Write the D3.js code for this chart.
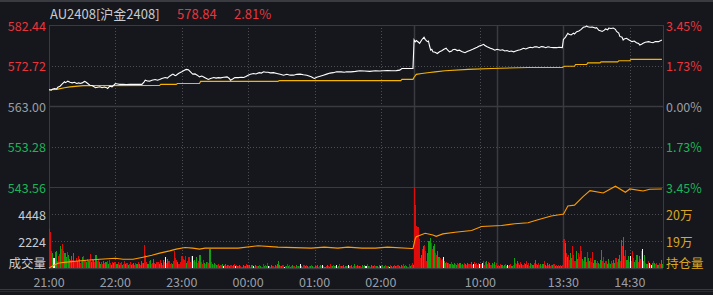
<!DOCTYPE html>
<html><head><meta charset="utf-8">
<script src="https://cdn.jsdelivr.net/npm/d3@7"></script>
<style>
html,body{margin:0;padding:0;background:#15171c;overflow:hidden;}
svg{display:block;}
text{font-family:"Noto Sans CJK SC","Noto Sans",sans-serif;}
</style></head><body>
<svg id="c" width="713" height="295"></svg>
<script>
// ---------------- DATA ----------------
const symbolName = "AU2408[沪金2408]";
const lastPrice = "578.84";
const lastChange = "2.81%";
const prevSettle = 563.00;
const priceTicks = [582.44, 572.72, 563.00, 553.28, 543.56];
const pctTicks = ["3.45%", "1.73%", "0.00%", "1.73%", "3.45%"];
const volTicks = [4448, 2224];
const volLabel = "成交量";
const oiTicks = [200000, 190000];
const oiTickLabels = ["20万", "19万"];
const oiLabel = "持仓量";
const timeLabels = ["21:00", "22:00", "23:00", "00:00", "01:00", "02:00", "10:00", "13:30", "14:30"];
const timeLabelMin = [0, 60, 120, 180, 240, 300, 390, 465, 525];
const sessionBreakMin = [330, 405, 465];
const hourGridMin = [60, 120, 180, 240, 300, 390, 525];
const totalMinutes = 555;

// [minute index, price]
const priceNight = [[0,566.9],[2,566.8],[3,567.0],[5,567.2],[7,567.1],[8,567.5],[10,567.75],[12,568.3],[14,568.8],[15,568.6],[17,568.96],[19,568.7],[21,568.55],[23,568.7],[25,568.4],[27,568.55],[28,568.4],[30,568.55],[32,568.9],[33,568.8],[35,568.4],[37,568.0],[39,567.9],[42,567.4],[44,567.5],[46,567.6],[48,567.4],[50,567.55],[52,567.4],[53,567.2],[55,567.75],[57,567.6],[60,568.4],[62,568.3],[64,568.2],[67,568.2],[70,568.15],[73,568.2],[76,568.2],[80,568.2],[84,568.2],[86,568.8],[87,569.2],[89,569.0],[91,568.96],[93,569.2],[96,569.36],[98,569.2],[100,569.36],[102,569.6],[105,569.85],[107,569.7],[109,570.16],[111,570.5],[112,570.65],[114,570.3],[115,570.4],[117,570.8],[120,571.2],[122,571.5],[124,571.78],[126,571.7],[127,571.45],[129,570.9],[130,570.65],[132,570.7],[134,570.4],[136,570.0],[138,570.2],[139,570.1],[141,569.8],[144,569.36],[146,569.6],[149,569.85],[151,569.7],[153,569.8],[155,569.75],[158,569.9],[161,570.0],[163,569.6],[164,569.2],[166,569.5],[168,569.85],[171,569.8],[174,569.9],[176,569.85],[178,570.1],[180,570.4],[182,570.6],[185,570.8],[187,570.7],[190,571.0],[192,570.9],[194,571.2],[196,571.1],[198,571.1],[200,570.96],[203,571.0],[206,570.8],[209,570.6],[212,570.4],[215,570.6],[218,570.4],[221,570.4],[224,570.6],[227,570.65],[230,570.5],[233,570.4],[235,570.2],[237,570.0],[239,569.7],[240,569.6],[242,569.9],[245,570.16],[248,570.4],[251,570.65],[254,570.9],[257,571.0],[260,571.2],[264,571.2],[267,571.1],[269,571.2],[273,571.2],[277,571.3],[281,571.45],[285,571.4],[290,571.3],[295,571.45],[299,571.4],[302,571.45],[306,571.5],[310,571.45],[314,571.5],[317,571.6],[319,572.0],[324,572.0],[329,572.0]];
const priceMorning = [[330,578.85],[331,578.4],[332,578.7],[334,578.3],[335,578.05],[337,578.9],[339,579.5],[340,579.0],[342,578.45],[343,578.6],[344,577.4],[345,576.4],[346,576.6],[347,576.0],[349,575.9],[351,575.6],[353,576.0],[355,576.25],[357,576.6],[359,576.85],[360,576.5],[362,576.0],[364,576.2],[365,576.5],[367,576.6],[369,576.3],[371,576.4],[373,576.1],[376,575.8],[378,576.1],[381,576.4],[383,576.6],[385,576.85],[387,577.1],[389,577.4],[391,577.6],[393,577.8],[394,577.5],[396,577.2],[398,577.0],[399,576.85],[401,576.7],[403,576.4],[405,576.6],[408,576.4],[410,576.5],[412,576.2],[414,576.3],[416,576.1],[418,576.2],[420,576.0],[422,576.2],[424,576.4],[426,576.5],[429,576.85],[431,576.7],[433,576.9],[435,577.1],[437,577.0],[439,577.2],[441,577.2],[443,577.0],[445,577.25],[447,577.2],[449,577.0],[451,577.2],[453,577.1],[456,577.0],[459,577.0],[461,577.1],[464,577.0]];
const priceAfternoon = [[465,579.0],[466,579.25],[467,579.6],[469,580.45],[470,580.2],[472,580.05],[474,580.5],[475,580.3],[477,580.85],[479,581.0],[481,581.4],[483,581.9],[485,582.0],[486,582.2],[487,582.0],[489,581.9],[491,581.95],[494,581.7],[495,581.8],[497,581.15],[499,581.0],[500,580.9],[502,581.2],[503,581.5],[505,581.3],[506,581.7],[508,581.6],[510,581.7],[512,581.4],[513,580.9],[515,580.5],[516,579.7],[518,579.5],[519,578.85],[520,579.1],[522,579.25],[524,578.9],[527,578.45],[529,578.6],[531,578.2],[533,578.0],[534,577.65],[536,577.9],[537,578.05],[539,578.3],[542,578.45],[544,578.3],[546,578.2],[548,578.45],[551,578.45],[553,578.7],[554,578.84]];

// [minute index, average price]
const avgPoints = [[0,566.9],[7,567.0],[14,567.4],[19,567.6],[31,567.9],[100,567.95],[101,568.2],[115,568.2],[116,568.4],[136,568.4],[137,568.9],[207,568.9],[208,569.1],[318,569.1],[319,569.4],[329,569.4],[330,569.9],[332,570.6],[337,570.8],[344,571.05],[349,571.2],[358,571.45],[379,571.8],[400,572.0],[433,572.25],[464,572.25],[466,572.55],[475,572.55],[476,572.95],[486,572.95],[487,573.35],[498,573.35],[499,573.6],[514,573.6],[515,573.85],[525,573.85],[526,574.2],[554,574.2]];

// [minute index, open interest]
const oiPoints = [[0,180000],[2,180450],[8,181730],[14,182100],[26,182600],[34,182850],[46,183230],[60,183600],[67,183230],[76,183230],[85,184000],[93,184740],[100,185500],[109,186350],[115,187000],[123,187600],[130,187370],[136,187000],[141,187370],[171,187370],[189,188230],[207,187740],[237,187370],[249,187740],[261,187370],[270,187740],[283,187370],[295,187370],[306,187740],[328,187220],[329,187220],[331,190750],[332,191600],[340,192860],[347,192250],[350,191730],[356,192630],[367,193230],[382,193870],[391,195380],[409,195750],[421,196390],[433,196770],[442,197890],[454,199250],[464,199890],[465,199890],[469,203000],[475,203270],[483,206500],[489,208640],[501,207780],[512,210300],[521,208050],[525,209280],[537,208530],[543,209150],[554,209280]];

// per-minute volume (lots)
const volNight1 = [3200,2940,1400,1260,840,1340,1400,560,1000,1120,
  1820,1540,1960,1420,1260,900,1340,1100,780,640,
  1000,700,1260,520,860,600,980,740,420,560,
  880,1020,640,480,760,600,580,1180,460,720,
  640,480,1100,560,760,520,300,460,360,600,
  420,480,560,300,640,420,240,520,380,460,
  420,300,520,260,380,460,240,340,560,300,
  420,280,360,500,220,320,440,260,380,300,
  520,340,260,600,380,440,1930,1100,480,360,
  560,640,300,420,760,380,300,520,460,340,
  620,400,280,700,520,920,380,760,600,340,
  420,300,540,1430,840,640,480,300,520,1000,
  1000,760,640,1000,420,560,880,500,1000,1010,
  560,640,480,920,380,600,1090,520,360,680,
  400,300,460,520,380,1600,520,340,260,380,
  300,220,280,360,180,260,320,200,240,300,
  160,220,280,180,260,140,220,320,180,240,
  200,160,260,180,120,240,200,160,300,220];
const volNight2 = [160,220,120,280,180,100,240,160,200,140,
  260,180,120,300,160,220,140,380,200,160,
  120,240,180,100,260,160,340,580,220,140,
  180,260,120,200,160,300,140,220,100,180,
  240,160,120,280,200,140,180,320,160,120,
  220,180,260,140,100,200,160,240,180,120,
  200,160,280,120,180,220,140,260,180,100,
  160,240,200,120,300,180,140,220,160,260,
  120,180,340,200,140,160,240,120,200,180,
  260,140,180,220,100,160,300,180,240,140,
  200,160,120,260,180,220,140,340,200,160,
  120,240,180,140,280,200,160,120,220,180,
  160,220,120,180,260,140,200,100,240,180,
  120,160,280,200,140,220,180,120,260,200,
  340,160,240,180,120,300,200,220,400,260];
const volMorning = [6672,5200,3500,3360,2350,840,1100,1540,1850,1880,
  1430,560,1260,2240,2440,2100,1600,1850,1960,1260,
  1100,1430,900,840,700,760,880,600,420,500,
  420,380,300,460,360,280,420,340,260,380,
  300,420,260,340,220,380,300,260,420,340,
  300,500,260,340,520,300,380,260,420,340,
  300,420,560,260,480,600,340,520,380,260,
  420,300,500,220,380,160,260,180,300,220,
  160,240,340,200,280,160,220,300,180,260,
  840,420,300,540,380,260,460,340,220,400,
  300,560,260,380,200,440,300,240,380,640,
  300,220,420,260,340,180,300,560,260,200,
  380,240,320,180,260,220,300,160,240,200,
  280,180,220,160,240];
const volAfternoon = [2350,2100,1260,900,1100,700,1260,840,1850,1100,
  600,1430,760,1260,900,1850,1430,760,600,920,
  500,1340,840,600,840,500,1340,420,670,380,
  590,420,340,670,1510,600,920,420,590,340,
  760,420,300,590,420,670,380,840,500,760,
  1090,600,2270,1850,2520,1000,1510,670,1000,500,
  1000,600,1430,840,500,670,1090,500,1000,760,
  1430,1600,590,1090,420,340,590,420,300,250,
  420,590,420,300,420,250,420,340,670,340];
// bar colour per minute: r = up, g = down, w = unchanged
const volDir =
  "rrrgwggrrr grrrggrggr grgrrgrgrr grrgrggrgr grgrrggrrg rgrgrrgrgr " +
  "rgrgrrgrrg rgrrgrgrrg rgrgrgrrrg rgrrgrgrrg rgrgrwrgrr rgrrrrgrrr " +
  "rrrrgrrrrw rgrgrrgrrr grgrrgrgrg rgrrgrgwrg rgrgrrgrwr grgrrgrgrg " +
  "rgrgwrgrrg rgrrgrgrwg rgrrgrgggr grwrgrgrgr grrgrgrwgr rgrgrrgrgr " +
  "grgrrgrwrg rgrgrrgrgw rgrrgrgrgr wgrgrrgrgr grrgrgwrgr rgrgrrgrgw " +
  "rgrgrrgwrg rgrgrrgrgr rgrgrrgrrg " +
  "rrrrrrgrgr rrgggrrggr rggrrrwggr grgrgggrgr rgrgrrgrgr rgrwrgrrrw " +
  "rwrrrgrrgr grgrrgrgrg rgrgwrgrgr grrgrgrgrr grgrrgrgrg rgrrgrgrgr grgrrgrgrg rgrgr " +
  "rgrgrrggrr rggrrrrgrg rrggrrrggr rgrggrrgrg grgrrggrrg grgrgrrggr wrrrgrgrgr rwggrgrwrw grgrrgrrgg";

// ---------------- DRAW ----------------
const pricePoints = priceNight.concat(priceMorning, priceAfternoon);
const volume = volNight1.concat(volNight2, volMorning, volAfternoon);
const dirs = volDir.replace(/\s+/g, "");
const W = 713, H = 295;
const L = 49, R = 663, PT = 25, PB = 187, VB = 268;
const C = {
  bg: "#15171c", grid: "#3a3b40", dot: "#4c4d53", red: "#e8353d", green: "#1db35b",
  grey: "#9a9ea6", light: "#c9cbd0", avg: "#f5b400", oi: "#ff9a00", oiText: "#dba624",
  barR: "#e00b0b", barG: "#12a012", barW: "#ffffff"
};
const svg = d3.select("#c");
svg.append("rect").attr("width", W).attr("height", H).attr("fill", C.bg);

const x = d3.scaleLinear().domain([0, totalMinutes]).range([L, R]);
const yP = d3.scaleLinear().domain([priceTicks[4], priceTicks[0]]).range([PB, PT]);
const yV = d3.scaleLinear().domain([0, volTicks[0] * 1.5]).range([VB, PB]);
const yO = d3.scaleLinear().domain([180000, 210000]).range([VB, PB]);

// frame lines top / bottom of window
svg.append("line").attr("x1", 0).attr("x2", W).attr("y1", 1).attr("y2", 1).attr("stroke", C.grid).attr("stroke-width", 2);
svg.append("line").attr("x1", 0).attr("x2", W).attr("y1", 289.5).attr("y2", 289.5).attr("stroke", C.grid);
svg.append("line").attr("x1", 0).attr("x2", W).attr("y1", 291.5).attr("y2", 291.5).attr("stroke", "#2a2b30");

const g = svg.append("g");
const dotH = [yP(priceTicks[1]), yP(priceTicks[3]), yV(volTicks[0]), yV(volTicks[1])];
g.selectAll(".dh").data(dotH).enter().append("line")
  .attr("x1", L).attr("x2", R).attr("y1", d => Math.round(d) + 0.5).attr("y2", d => Math.round(d) + 0.5)
  .attr("stroke", C.dot).attr("stroke-dasharray", "1,2");
g.selectAll(".dv").data(hourGridMin).enter().append("line")
  .attr("x1", d => Math.round(x(d)) + 0.5).attr("x2", d => Math.round(x(d)) + 0.5)
  .attr("y1", PT).attr("y2", VB).attr("stroke", C.dot).attr("stroke-dasharray", "1,2");
g.selectAll(".sv").data(sessionBreakMin).enter().append("line")
  .attr("x1", d => Math.round(x(d)) + 0.5).attr("x2", d => Math.round(x(d)) + 0.5)
  .attr("y1", PT).attr("y2", VB).attr("stroke", C.grid).attr("stroke-width", 1.5);
[[yP(priceTicks[0]), 1], [yP(prevSettle), 1.6], [PB, 1], [VB, 1.5]].forEach(([yy, w]) => {
  g.append("line").attr("x1", L).attr("x2", R).attr("y1", Math.round(yy) + 0.5).attr("y2", Math.round(yy) + 0.5)
    .attr("stroke", C.grid).attr("stroke-width", w);
});
[L, R].forEach(xx => g.append("line").attr("x1", xx + 0.5).attr("x2", xx + 0.5).attr("y1", PT).attr("y2", VB)
  .attr("stroke", C.grid).attr("stroke-width", 1));

// volume bars
const bw = x(1) - x(0);
g.selectAll(".vb").data(volume).enter().append("rect")
  .attr("x", (d, i) => x(i))
  .attr("width", bw)
  .attr("y", d => Math.max(PB, yV(d)))
  .attr("height", d => VB - Math.max(PB, yV(d)))
  .attr("shape-rendering", "crispEdges")
  .attr("fill", (d, i) => dirs[i] === "g" ? C.barG : dirs[i] === "w" ? C.barW : C.barR);

const line = d3.line().x(d => x(d[0]));
g.append("path").attr("d", line.y(d => yO(d[1]))(oiPoints)).attr("fill", "none").attr("stroke", C.oi).attr("stroke-width", 1.1);
g.append("path").attr("d", line.y(d => yP(d[1]))(avgPoints)).attr("fill", "none").attr("stroke", C.avg).attr("stroke-width", 1.1);
g.append("path").attr("d", line.y(d => yP(d[1]))(pricePoints)).attr("fill", "none").attr("stroke", "#ffffff").attr("stroke-width", 1.1);

// texts
const fs = "12.5px";
const colorFor = v => v > prevSettle + 1e-9 ? C.red : v < prevSettle - 1e-9 ? C.green : C.grey;
priceTicks.forEach((v, i) => {
  svg.append("text").attr("x", 46).attr("y", yP(v)).attr("text-anchor", "end").attr("dominant-baseline", "central")
    .attr("font-size", fs).attr("fill", colorFor(v)).text(v.toFixed(2));
  svg.append("text").attr("x", 666).attr("y", yP(v)).attr("text-anchor", "start").attr("dominant-baseline", "central")
    .attr("font-size", fs).attr("fill", colorFor(v)).text(pctTicks[i]);
});
volTicks.forEach(v => {
  svg.append("text").attr("x", 46).attr("y", yV(v)).attr("text-anchor", "end").attr("dominant-baseline", "central")
    .attr("font-size", fs).attr("fill", C.light).text(v);
});
svg.append("text").attr("x", 46).attr("y", 262).attr("text-anchor", "end").attr("dominant-baseline", "central")
  .attr("font-size", fs).attr("fill", C.light).text(volLabel);
oiTicks.forEach((v, i) => {
  svg.append("text").attr("x", 666).attr("y", yO(v)).attr("text-anchor", "start").attr("dominant-baseline", "central")
    .attr("font-size", fs).attr("fill", C.oiText).text(oiTickLabels[i]);
});
svg.append("text").attr("x", 666).attr("y", 262).attr("text-anchor", "start").attr("dominant-baseline", "central")
  .attr("font-size", fs).attr("fill", C.oiText).text(oiLabel);
timeLabels.forEach((t, i) => {
  svg.append("text").attr("x", x(timeLabelMin[i])).attr("y", 281).attr("text-anchor", "middle").attr("dominant-baseline", "central")
    .attr("font-size", fs).attr("fill", C.grey).text(t);
});
svg.append("text").attr("x", 50).attr("y", 13).attr("dominant-baseline", "central").attr("font-size", "13px")
  .attr("fill", C.light).text(symbolName);
svg.append("text").attr("x", 177).attr("y", 13).attr("dominant-baseline", "central").attr("font-size", "13px")
  .attr("fill", C.red).text(lastPrice);
svg.append("text").attr("x", 234).attr("y", 13).attr("dominant-baseline", "central").attr("font-size", "13px")
  .attr("fill", C.red).text(lastChange);
</script>
</body></html>
